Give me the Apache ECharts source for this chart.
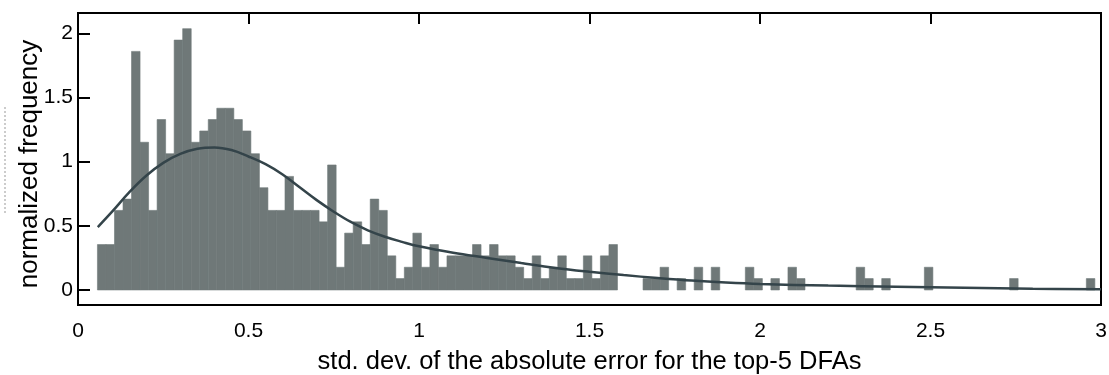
<!DOCTYPE html>
<html>
<head>
<meta charset="utf-8">
<script src="https://cdn.jsdelivr.net/npm/echarts@6/dist/echarts.min.js"></script>
<style>
html,body{margin:0;padding:0;background:#fff;}
#chart{width:1109px;height:375px;}
</style>
</head>
<body>
<div id="chart"></div>
<script>
// Histogram bins: first bin left edge and bin width (x units)
const binStart = 0.057;
const binWidth = 0.025;
// Normalized frequency of each bin
const binHeights = [
  0.354,0.354,0.620,0.708,1.859,1.151,0.620,1.328,1.062,1.947,
  2.036,1.151,1.239,1.328,1.416,1.416,1.328,1.239,1.062,0.797,
  0.620,0.620,0.885,0.620,0.620,0.620,0.531,0.974,0.177,0.443,
  0.531,0.354,0.708,0.620,0.266,0.089,0.177,0.443,0.177,0.354,
  0.177,0.266,0.266,0.266,0.354,0.266,0.354,0.266,0.266,0.177,
  0.089,0.266,0.089,0.177,0.266,0.089,0.089,0.266,0.089,0.266,
  0.354,0,0,0,0.089,0.089,0.177,0,0.089,0,
  0.177,0,0.177,0,0,0,0.177,0.089,0,0.089,
  0,0.177,0.089,0,0,0,0,0,0,0.177,
  0.089,0,0.089,0,0,0,0,0.177,0,0,
  0,0,0,0,0,0,0,0.089,0,0,
  0,0,0,0,0,0,0.089
];
// Fitted density curve
const curveX = [0.058,0.10,0.15,0.20,0.25,0.30,0.35,0.40,0.45,0.50,0.55,0.60,0.65,0.70,0.75,0.80,0.85,0.90,0.95,1.00,1.10,1.20,1.30,1.40,1.50,1.60,1.70,1.80,1.90,2.00,2.20,2.40,2.60,2.80,3.00];
const curveY = [0.49,0.61,0.76,0.89,0.99,1.06,1.10,1.11,1.09,1.04,0.98,0.90,0.80,0.70,0.61,0.53,0.465,0.415,0.375,0.34,0.29,0.25,0.21,0.172,0.142,0.116,0.093,0.073,0.058,0.047,0.034,0.025,0.017,0.009,0.005];
// Tick labels
const xTicks = [0,0.5,1,1.5,2,2.5,3];
const yTicks = [0,0.5,1,1.5,2];

const histData = binHeights.map((h, i) => [binStart + i * binWidth, binStart + (i + 1) * binWidth, h]).filter(d => d[2] > 0);
const curveData = curveX.map((x, i) => [x, curveY[i]]);

const FONT = "'Liberation Sans', Arial, Helvetica, sans-serif";
const barColor = '#6f7878';

const chart = echarts.init(document.getElementById('chart'), null, {renderer: 'canvas'});
chart.setOption({
  animation: false,
  backgroundColor: '#fff',
  grid: {left: 78, right: 8, top: 13, bottom: 70, containLabel: false, outerBoundsMode: 'none',
         show: true, borderColor: '#000', borderWidth: 2, backgroundColor: 'transparent'},
  xAxis: [{
    type: 'value', min: 0, max: 3, interval: 0.5, position: 'bottom',
    name: 'std. dev. of the absolute error for the top-5 DFAs',
    nameLocation: 'middle', nameGap: 44,
    nameTextStyle: {fontFamily: FONT, fontSize: 25.5, color: '#000'},
    axisLine: {show: false},
    axisTick: {show: true, inside: true, length: 11, lineStyle: {color: '#000', width: 2}, customValues: xTicks},
    axisLabel: {fontFamily: FONT, fontSize: 21, color: '#000', margin: 16, customValues: xTicks},
    splitLine: {show: false}
  }, {
    type: 'value', min: 0, max: 3, interval: 0.5, position: 'top',
    axisLine: {show: false},
    axisTick: {show: true, inside: true, length: 11, lineStyle: {color: '#000', width: 2}, customValues: xTicks},
    axisLabel: {show: false},
    splitLine: {show: false}
  }],
  yAxis: {
    type: 'value', min: -0.117, max: 2.158,
    name: 'normalized frequency',
    nameLocation: 'middle', nameGap: 35, nameMoveOverlap: false,
    nameTextStyle: {fontFamily: FONT, fontSize: 26, color: '#000', padding: [0, 10, 0, 0]},
    axisLine: {show: false},
    axisTick: {show: true, inside: true, length: 12, lineStyle: {color: '#000', width: 2}, customValues: yTicks},
    axisLabel: {fontFamily: FONT, fontSize: 21, color: '#000', margin: 5, customValues: yTicks},
    splitLine: {show: false}
  },
  graphic: [{
    type: 'line', shape: {x1: 5, y1: 107, x2: 5, y2: 213},
    style: {stroke: '#999', lineWidth: 1, lineDash: [2, 2]}
  }],
  series: [{
    type: 'custom',
    xAxisIndex: 0, yAxisIndex: 0,
    data: histData,
    encode: {x: [0, 1], y: 2},
    renderItem: function (params, api) {
      const p0 = api.coord([api.value(0), api.value(2)]);
      const p1 = api.coord([api.value(1), 0]);
      return {
        type: 'rect',
        shape: {x: p0[0], y: p0[1], width: p1[0] - p0[0], height: p1[1] - p0[1]},
        style: {fill: barColor, stroke: barColor, lineWidth: 0.6}
      };
    },
    z: 2
  }, {
    type: 'line',
    xAxisIndex: 0, yAxisIndex: 0,
    data: curveData,
    smooth: 0.4,
    symbol: 'none',
    lineStyle: {color: '#34444a', width: 2.5},
    z: 3
  }]
});
</script>
</body>
</html>
